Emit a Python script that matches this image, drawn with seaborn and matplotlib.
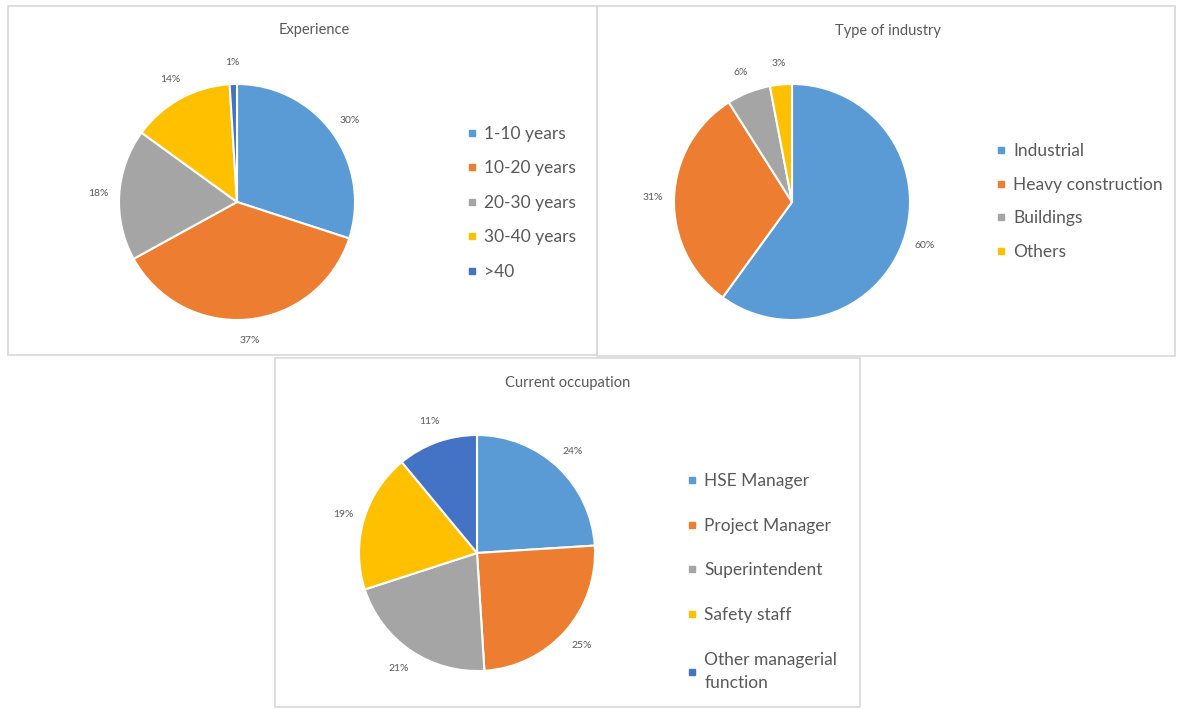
import matplotlib
matplotlib.use("Agg")
import matplotlib.pyplot as plt
from matplotlib.patches import Rectangle
from matplotlib.lines import Line2D
import seaborn as sns

sns.set_theme(style="white")
plt.rcParams['font.family'] = ['Lato', 'DejaVu Sans']

# ---- data ----
exp_labels = ["1-10 years", "10-20 years", "20-30 years", "30-40 years", ">40"]
exp_values = [30, 37, 18, 14, 1]

ind_labels = ["Industrial", "Heavy construction", "Buildings", "Others"]
ind_values = [60, 31, 6, 3]

occ_labels = ["HSE Manager", "Project Manager", "Superintendent", "Safety staff",
              "Other managerial\nfunction"]
occ_values = [24, 25, 21, 19, 11]

palette = sns.color_palette(["#5B9BD5", "#ED7D31", "#A5A5A5", "#FFC000", "#4472C4"])
TXT = "#595959"

W, H = 1177, 709
fig = plt.figure(figsize=(W / 100, H / 100), dpi=100)
fig.patch.set_facecolor("white")


def px_rect(x0, y0, x1, y1):
    return [x0 / W, 1 - y1 / H, (x1 - x0) / W, (y1 - y0) / H]


# panel borders
for (x0, y0, x1, y1) in [(8, 6, 597, 355), (597, 6, 1175, 356), (275, 358, 860, 707)]:
    fig.add_artist(Rectangle((x0 / W, 1 - y1 / H), (x1 - x0) / W, (y1 - y0) / H,
                             transform=fig.transFigure, fill=False,
                             edgecolor="#d9d9d9", linewidth=1.2))


def draw_pie(cx, cy, R, values, labels, title, title_xy, leg_xy, leg_spacing):
    ax = fig.add_axes(px_rect(cx - R, cy - R, cx + R, cy + R))
    cols = palette[:len(values)]
    wedges, texts = ax.pie(values, colors=cols, startangle=90, counterclock=False,
                           radius=1.0, labels=[f"{v}%" for v in values],
                           labeldistance=1.18,
                           wedgeprops=dict(edgecolor="white", linewidth=1.5),
                           textprops=dict(color=TXT, fontsize=7.5))
    for t in texts:
        t.set_ha("center")
        t.set_va("center")
    ax.set_xlim(-1, 1)
    ax.set_ylim(-1, 1)
    ax.set_aspect("equal")
    ax.axis("off")
    fig.text(title_xy[0] / W, 1 - title_xy[1] / H, title, ha="center", va="center",
             color=TXT, fontsize=10.5)
    handles = [Line2D([], [], marker="s", linestyle="none", markersize=5,
                      markerfacecolor=c, markeredgecolor=c) for c in cols]
    leg = fig.legend(handles, labels, loc="upper left",
                     bbox_to_anchor=(leg_xy[0] / W, 1 - leg_xy[1] / H),
                     frameon=False, fontsize=12.5, labelcolor=TXT,
                     handlelength=0.5, handletextpad=0.45,
                     labelspacing=leg_spacing, borderpad=0, borderaxespad=0)
    for t in leg.get_texts():
        if "\n" in t.get_text():
            t.set_linespacing(1.55)
    return ax


draw_pie(237, 202, 118, exp_values, exp_labels, "Experience", (314, 30),
         (468, 126), 1.06)
draw_pie(792, 202, 118, ind_values, ind_labels, "Type of industry", (888, 31),
         (997, 143), 1.02)
draw_pie(477, 553, 118, occ_values, occ_labels, "Current occupation", (568, 383),
         (688, 473), 1.65)

fig.savefig("out.png", dpi=100, facecolor="white")
